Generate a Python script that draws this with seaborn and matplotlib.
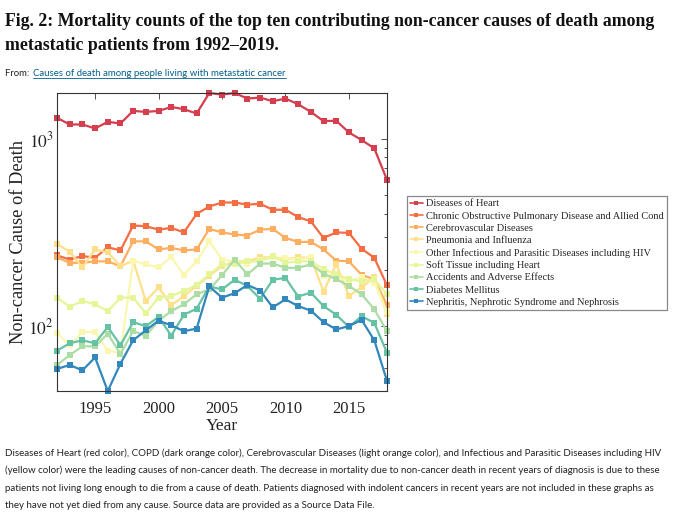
import matplotlib
matplotlib.use("Agg")
import matplotlib.pyplot as plt
import numpy as np
import pandas as pd
import seaborn as sns
from matplotlib.ticker import NullFormatter, LogLocator, FixedLocator
from matplotlib.lines import Line2D

# ---------------- data ----------------
YEARS = list(range(1992, 2019))
CAUSES = [
    "Diseases of Heart",
    "Chronic Obstructive Pulmonary Disease and Allied Cond",
    "Cerebrovascular Diseases",
    "Pneumonia and Influenza",
    "Other Infectious and Parasitic Diseases including HIV",
    "Soft Tissue including Heart",
    "Accidents and Adverse Effects",
    "Diabetes Mellitus",
    "Nephritis, Nephrotic Syndrome and Nephrosis",
]
HEART = [1298, 1197, 1197, 1140, 1236, 1212, 1414, 1397, 1414, 1485, 1444, 1370, 1763, 1729,
         1763, 1646, 1667, 1593, 1646, 1535, 1397, 1247, 1253, 1085, 988, 892, 605]
COPD = [239, 227, 237, 232, 264, 254, 345, 342, 328, 335, 317, 398, 436, 458,
        458, 446, 451, 419, 419, 383, 363, 296, 317, 315, 259, 232, 165]
CEREBRO = [233, 218, 218, 222, 222, 209, 284, 284, 257, 262, 254, 257, 331, 317,
           309, 305, 328, 331, 296, 282, 282, 257, 224, 222, 188, 178, 130]
PNEUMONIA = [275, 250, 206, 257, 248, 209, 224, 136, 161, 129, 145, 164, 186, 209,
             222, 222, 233, 233, 227, 233, 232, 153, 214, 145, 161, 182, 116]
OTHER_INF = [92, 79, 93, 93, 74, 72, 224, 214, 206, 234, 188, 222, 284, 227,
             222, 216, 227, 233, 232, 227, 233, 185, 182, 174, 182, 171, 119]
SOFT_TISSUE = [142, 127, 136, 131, 120, 142, 142, 117, 142, 145, 154, 166, 189, 214,
               214, 222, 222, 237, 218, 222, 222, 201, 189, 178, 174, 178, 148]
ACCIDENTS = [62, 70, 78, 78, 91, 71, 94, 89, 107, 120, 131, 148, 157, 187,
             227, 189, 216, 216, 205, 205, 214, 191, 178, 164, 148, 123, 94]
DIABETES = [74, 81, 84, 81, 99, 79, 105, 100, 112, 89, 115, 124, 163, 157,
            177, 164, 140, 177, 181, 144, 151, 128, 115, 99, 113, 104, 72]
NEPHRITIS = [59, 62, 58, 68, 45, 63, 84, 95, 107, 101, 94, 97, 163, 142,
             150, 166, 155, 126, 139, 128, 121, 105, 96, 100, 108, 84, 51]
SERIES = [HEART, COPD, CEREBRO, PNEUMONIA, OTHER_INF, SOFT_TISSUE, ACCIDENTS, DIABETES, NEPHRITIS]

X_TICKS = [1995, 2000, 2005, 2010, 2015]
Y_TICKS = [100, 1000]
Y_TICK_LABELS = ["$10^2$", "$10^3$"]

TITLE_1 = "Fig. 2: Mortality counts of the top ten contributing non-cancer causes of death among"
TITLE_2 = "metastatic patients from 1992\u20132019."
FROM_LABEL = "From: "
FROM_LINK = "Causes of death among people living with metastatic cancer"
CAPTION = [
    "Diseases of Heart (red color), COPD (dark orange color), Cerebrovascular Diseases (light orange color), and Infectious and Parasitic Diseases including HIV",
    "(yellow color) were the leading causes of non-cancer death. The decrease in mortality due to non-cancer death in recent years of diagnosis is due to these",
    "patients not living long enough to die from a cause of death. Patients diagnosed with indolent cancers in recent years are not included in these graphs as",
    "they have not yet died from any cause. Source data are provided as a Source Data File.",
]

COLORS = ["#d53e4f", "#f46d43", "#fdae61", "#fee08b", "#faf7b0",
          "#e6f598", "#abdda4", "#66c2a5", "#3288bd"]

df = pd.DataFrame({
    "Year": np.tile(YEARS, len(CAUSES)),
    "Deaths": np.concatenate([np.asarray(s, dtype=float) for s in SERIES]),
    "Cause": np.repeat(CAUSES, len(YEARS)),
})

# ---------------- style ----------------
sns.set_style("white")
plt.rcParams["font.family"] = ["Liberation Serif", "DejaVu Serif"]
plt.rcParams["mathtext.fontset"] = "stix"

W, H = 680, 514
fig = plt.figure(figsize=(W / 100, H / 100), dpi=100)
renderer = fig.canvas.get_renderer()

ax = fig.add_axes([57 / W, 1 - 391 / H, 330 / W, 298 / H])
sns.lineplot(data=df, x="Year", y="Deaths", hue="Cause", hue_order=CAUSES,
             palette=COLORS, estimator=None, errorbar=None, marker="s",
             markersize=4.6, markeredgewidth=0, linewidth=1.6, ax=ax,
             legend=True, clip_on=False)

ax.set_yscale("log")
ax.set_xlim(min(YEARS), max(YEARS))
ax.set_ylim(df["Deaths"].min(), df["Deaths"].max())
ax.xaxis.set_major_locator(FixedLocator(X_TICKS))
ax.yaxis.set_major_locator(FixedLocator(Y_TICKS))
ax.set_yticklabels(Y_TICK_LABELS)
ax.yaxis.set_minor_locator(LogLocator(base=10, subs=np.arange(2, 10)))
ax.yaxis.set_minor_formatter(NullFormatter())
ax.xaxis.set_minor_locator(FixedLocator([]))

for sp in ax.spines.values():
    sp.set_color("#333333")
    sp.set_linewidth(0.8)
    sp.set_visible(True)
ax.tick_params(which="both", direction="in", top=True, right=True,
               color="#333333", width=0.6)
ax.tick_params(which="major", length=4)
ax.tick_params(which="minor", length=2.2)
ax.tick_params(axis="x", labelsize=12, pad=7, labelcolor="#222222")
ax.tick_params(axis="y", labelsize=12.5, pad=2.5, labelcolor="#222222")
ax.set_xlabel("Year", fontsize=12.5, labelpad=1, color="#222222")
ax.set_ylabel("Non-cancer Cause of Death", fontsize=13.2, labelpad=0.5, color="#222222")

sns.move_legend(ax, "upper left", bbox_to_anchor=(407 / W, 1 - 196 / H),
                bbox_transform=fig.transFigure, title=None, frameon=True,
                fancybox=False, fontsize=7.5, handlelength=1.2,
                labelspacing=0.28, borderpad=0.3, handletextpad=0.3,
                borderaxespad=0, edgecolor="#888888", framealpha=1)
leg = ax.get_legend()
leg.get_frame().set_linewidth(0.9)
for h in leg.legend_handles:
    try:
        h.set_markersize(3.2)
        h.set_linewidth(1.2)
    except Exception:
        pass

# ---------------- page texts ----------------
def fit(x_px, y_px, s, width_px, **kw):
    t = fig.text(x_px / W, 1 - y_px / H, s, va="baseline", ha="left", **kw)
    w = t.get_window_extent(renderer).width
    t.set_fontsize(t.get_fontsize() * width_px / w)
    return t

t1 = fit(5, 26, TITLE_1, 650, family="Liberation Serif", weight="bold", color="#111111")
fig.text(5 / W, 1 - 50 / H, TITLE_2, va="baseline", ha="left", family="Liberation Serif",
         weight="bold", color="#111111", fontsize=t1.get_fontsize())

fl = fit(5, 76, FROM_LABEL, 27, family="Lato", color="#222222")
link = fit(33, 76, FROM_LINK, 254, family="Lato", color="#025e8d")
bb = link.get_window_extent(renderer)
fig.add_artist(Line2D([bb.x0 / W, bb.x1 / W], [1 - 78 / H, 1 - 78 / H],
                      color="#025e8d", linewidth=0.6, transform=fig.transFigure))

c1 = fit(5, 456, CAPTION[0], 659, family="Lato", color="#222222")
for i, line in enumerate(CAPTION[1:], start=1):
    fig.text(5 / W, 1 - (456 + 17.4 * i) / H, line, va="baseline", ha="left",
             family="Lato", color="#222222", fontsize=c1.get_fontsize())

fig.savefig("out.png", dpi=100)
